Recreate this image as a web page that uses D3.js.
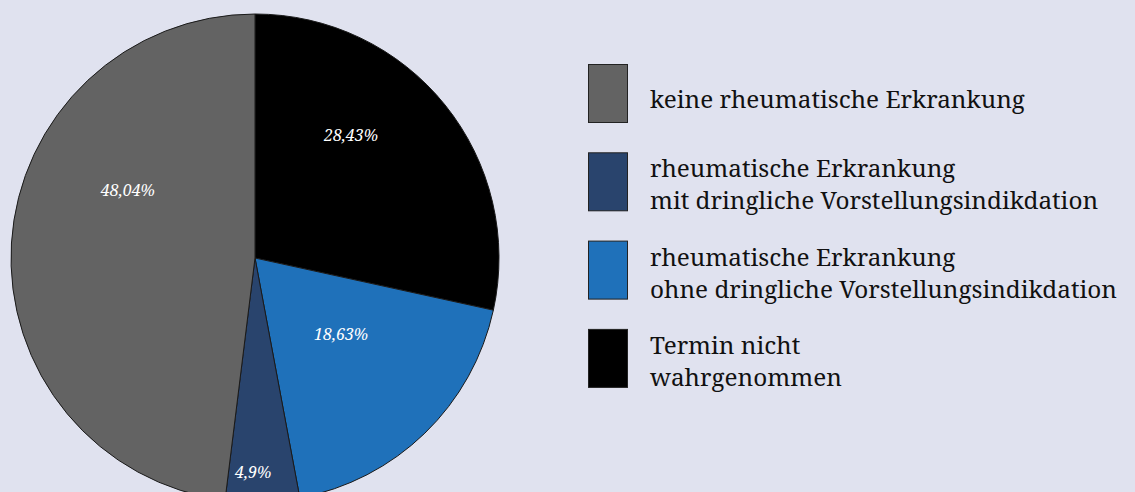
<!DOCTYPE html>
<html>
<head>
<meta charset="utf-8">
<script src="https://cdn.jsdelivr.net/npm/d3@7"></script>
<style>
  html, body { margin: 0; padding: 0; background: #e0e2ef; }
  svg { display: block; }
</style>
</head>
<body>
<div id="chart"></div>
<script>
// Chart data
const categories = [
  "Termin nicht wahrgenommen",
  "rheumatische Erkrankung ohne dringliche Vorstellungsindikdation",
  "rheumatische Erkrankung mit dringliche Vorstellungsindikdation",
  "keine rheumatische Erkrankung"
];
const values = [28.43, 18.63, 4.9, 48.04];
const valueLabels = ["28,43%", "18,63%", "4,9%", "48,04%"];
const colors = ["#000000", "#1f71ba", "#29446d", "#636363"];

// Legend (order as shown on the right)
const legendOrder = [3, 2, 1, 0];
const legendLines = [
  ["keine rheumatische Erkrankung"],
  ["rheumatische Erkrankung", "mit dringliche Vorstellungsindikdation"],
  ["rheumatische Erkrankung", "ohne dringliche Vorstellungsindikdation"],
  ["Termin nicht", "wahrgenommen"]
];

const width = 1135;
const height = 492;
const cx = 255, cy = 258, radius = 244;

// label placement relative to the pie centre (angle in degrees, radius in px)
const labelPolar = [[38, 156], [131.5, 115], [180.5, 214], [298, 144]];

const font = "'Noto Serif', 'DejaVu Serif', serif";

const svg = d3.select('#chart').append('svg')
  .attr('width', width)
  .attr('height', height);

svg.append('rect')
  .attr('width', width)
  .attr('height', height)
  .attr('fill', '#e0e2ef');

const pie = d3.pie().sort(null).value(d => d);
const arc = d3.arc().innerRadius(0).outerRadius(radius);

const g = svg.append('g').attr('transform', `translate(${cx},${cy})`);

g.selectAll('path.slice')
  .data(pie(values))
  .join('path')
  .attr('class', 'slice')
  .attr('d', arc)
  .attr('fill', (d, i) => colors[i])
  .attr('stroke', '#1a1a1a')
  .attr('stroke-width', 1);

g.selectAll('text.val')
  .data(valueLabels)
  .join('text')
  .attr('class', 'val')
  .attr('x', (d, i) => d3.pointRadial(labelPolar[i][0] * Math.PI / 180, labelPolar[i][1])[0])
  .attr('y', (d, i) => d3.pointRadial(labelPolar[i][0] * Math.PI / 180, labelPolar[i][1])[1])
  .attr('dy', '0.35em')
  .attr('text-anchor', 'middle')
  .attr('fill', '#ffffff')
  .style('font-family', font)
  .style('font-style', 'italic')
  .style('font-size', '16px')
  .text(d => d);

// Legend
const legend = svg.append('g').attr('transform', 'translate(588,64)');
const item = legend.selectAll('g.item')
  .data(legendOrder)
  .join('g')
  .attr('class', 'item')
  .attr('transform', (d, i) => `translate(0,${i * 88.3})`);

item.append('rect')
  .attr('x', 0.5)
  .attr('y', 0.5)
  .attr('width', 39)
  .attr('height', 58)
  .attr('fill', d => colors[d])
  .attr('stroke', '#222')
  .attr('stroke-width', 1);

item.each(function (d, i) {
  const lines = legendLines[i];
  const t = d3.select(this).append('text')
    .attr('x', 62)
    .attr('fill', '#111')
    .style('font-family', font)
    .style('font-size', '24.3px');
  const base = lines.length === 1 ? 44 : 25;
  lines.forEach((line, j) => {
    t.append('tspan')
      .attr('x', 62)
      .attr('y', base + j * 32)
      .text(line);
  });
});
</script>
</body>
</html>
